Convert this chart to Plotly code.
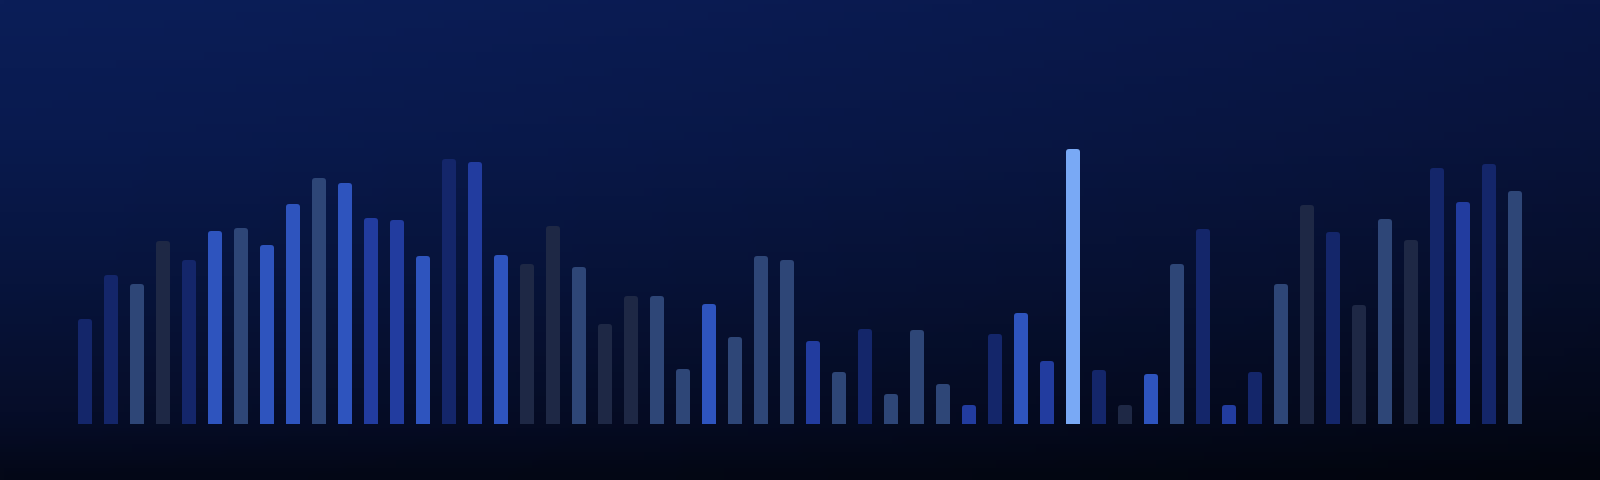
import base64, struct, zlib
import numpy as np
import plotly.graph_objects as go

# ---------------- data ----------------
positions = list(range(1, 57))
values = [105, 149, 140, 183, 164, 193, 196, 179, 220, 246,
          241, 206, 204, 168, 265, 262, 169, 160, 198, 157,
          100, 128, 128, 55, 120, 87, 168, 164, 83, 52,
          95, 30, 94, 40, 19, 90, 111, 63, 275, 54,
          19, 50, 160, 195, 19, 52, 140, 219, 192, 119,
          205, 184, 256, 222, 260, 233]
tones = ["navy", "navy", "slate", "dusk", "navy", "bright", "slate", "bright", "bright", "slate",
         "bright", "medium", "medium", "bright", "navy", "medium", "bright", "dusk", "dusk", "slate",
         "dusk", "dusk", "slate", "slate", "bright", "slate", "slate", "slate", "medium", "slate",
         "navy", "slate", "slate", "slate", "medium", "navy", "bright", "medium", "light", "navy",
         "dusk", "bright", "slate", "navy", "medium", "navy", "slate", "dusk", "navy", "dusk",
         "slate", "dusk", "navy", "medium", "navy", "slate"]
palette = {"navy": "#14266a", "slate": "#2e4677", "dusk": "#1e2845",
           "bright": "#2e54be", "medium": "#223c9f", "light": "#79a9f5"}

# ---------------- background gradient image ----------------
def make_bg(w=200, h=60):
    stops = np.array([0.0, 0.3, 0.6, 0.88, 1.0])
    left = np.array([(11, 30, 88), (9, 26, 78), (7, 20, 60), (6, 13, 40), (4, 8, 24)], float)
    right = np.array([(9, 22, 70), (8, 19, 58), (6, 14, 42), (4, 8, 24), (2, 5, 14)], float)
    img = np.zeros((h, w, 3), np.uint8)
    for j in range(h):
        v = j / (h - 1)
        cl = np.array([np.interp(v, stops, left[:, k]) for k in range(3)])
        cr = np.array([np.interp(v, stops, right[:, k]) for k in range(3)])
        for i in range(w):
            u = (i / (w - 1)) ** 1.4
            img[j, i] = np.clip(cl * (1 - u) + cr * u, 0, 255)
    raw = b"".join(b"\x00" + img[j].tobytes() for j in range(h))
    def chunk(t, d):
        c = struct.pack(">I", len(d)) + t + d
        return c + struct.pack(">I", zlib.crc32(t + d) & 0xffffffff)
    png = b"\x89PNG\r\n\x1a\n" + chunk(b"IHDR", struct.pack(">IIBBBBB", w, h, 8, 2, 0, 0, 0)) \
        + chunk(b"IDAT", zlib.compress(raw, 9)) + chunk(b"IEND", b"")
    return "data:image/png;base64," + base64.b64encode(png).decode()

W, H = 1600, 480
first_center, step, bar_px, base_px = 85, 26, 14, 424
x0 = positions[0] - first_center / step
x1 = x0 + W / step
y_lo = -(H - base_px)
y_hi = base_px

fig = go.Figure(go.Bar(
    x=positions, y=values,
    marker=dict(color=[palette[t] for t in tones], line=dict(width=0), cornerradius=3),
    width=bar_px / step,
    hoverinfo="skip",
))
fig.update_layout(
    width=W, height=H,
    margin=dict(l=0, r=0, t=0, b=0),
    paper_bgcolor="#060b22", plot_bgcolor="rgba(0,0,0,0)",
    showlegend=False,
    xaxis=dict(range=[x0, x1], visible=False, fixedrange=True),
    yaxis=dict(range=[y_lo, y_hi], visible=False, fixedrange=True),
    images=[dict(source=make_bg(), xref="paper", yref="paper", x=0, y=1,
                 sizex=1, sizey=1, sizing="stretch", layer="below", xanchor="left", yanchor="top")],
)
fig.write_html(
    "out.html",
    config={"displayModeBar": False},
    post_script="document.body.style.margin='0';document.body.style.overflow='hidden';"
                "document.body.style.background='#060b22';",
)
